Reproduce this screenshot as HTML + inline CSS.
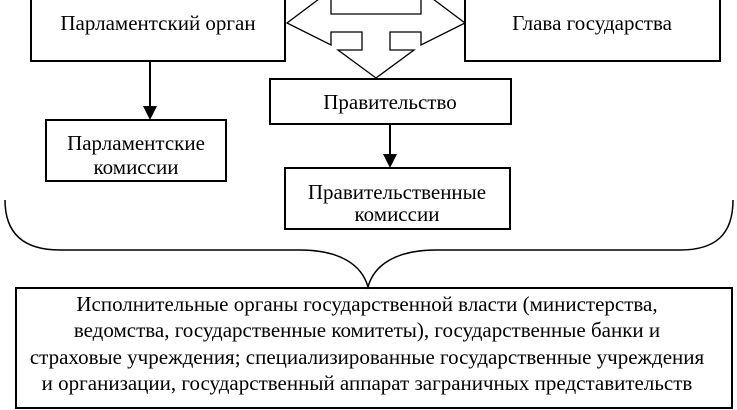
<!DOCTYPE html>
<html><head><meta charset="utf-8"><style>
html,body{margin:0;padding:0;background:#fff;}
svg{display:block;}
text{font-family:"Liberation Serif",serif;font-size:21px;fill:#000;text-anchor:middle;dominant-baseline:central;}
</style></head><body>
<svg width="737" height="410" viewBox="0 0 737 410" xmlns="http://www.w3.org/2000/svg">
<g fill="#fff" stroke="#000" stroke-width="2">
<rect x="31" y="-2" width="254" height="63"/>
<rect x="465" y="-2" width="255" height="63"/>
<rect x="270" y="79" width="241" height="45"/>
<rect x="46" y="120" width="180" height="61"/>
<rect x="285" y="168" width="225" height="61"/>
<rect x="16" y="288" width="716" height="120"/>
</g>
<polygon fill="#fff" stroke="#000" stroke-width="1.3" points="331,-10 331,14 421,14 421,-10 465,23 421,45 421,32 390,32 390,50 414,50 376,78 338,50 362,50 362,32 331,32 331,45 287,23"/>
<g stroke="#000" stroke-width="2" fill="none">
<line x1="150" y1="61" x2="150" y2="108"/>
<line x1="390" y1="124" x2="390" y2="156"/>
<path d="M5,200 C5,235 25,250 60,250 L300,250 C340,250 362,265 368,287 C374,265 396,250 436,250 L680,250 C715,250 733,235 733,200" stroke-width="1.5"/>
</g>
<polygon points="143,106 157,106 150,120"/>
<polygon points="383,154 397,154 390,168"/>
<text x="158" y="23">Парламентский орган</text>
<text x="592" y="23">Глава государства</text>
<text x="390" y="102">Правительство</text>
<text x="136" y="143">Парламентские</text>
<text x="136" y="167">комиссии</text>
<text x="397" y="192">Правительственные</text>
<text x="397" y="214">комиссии</text>
<text x="367" y="304">Исполнительные органы государственной власти (министерства,</text>
<text x="367" y="330">ведомства, государственные комитеты), государственные банки и</text>
<text x="367" y="357">страховые учреждения; специализированные государственные учреждения</text>
<text x="367" y="383">и организации, государственный аппарат заграничных представительств</text>
</svg>
</body></html>
